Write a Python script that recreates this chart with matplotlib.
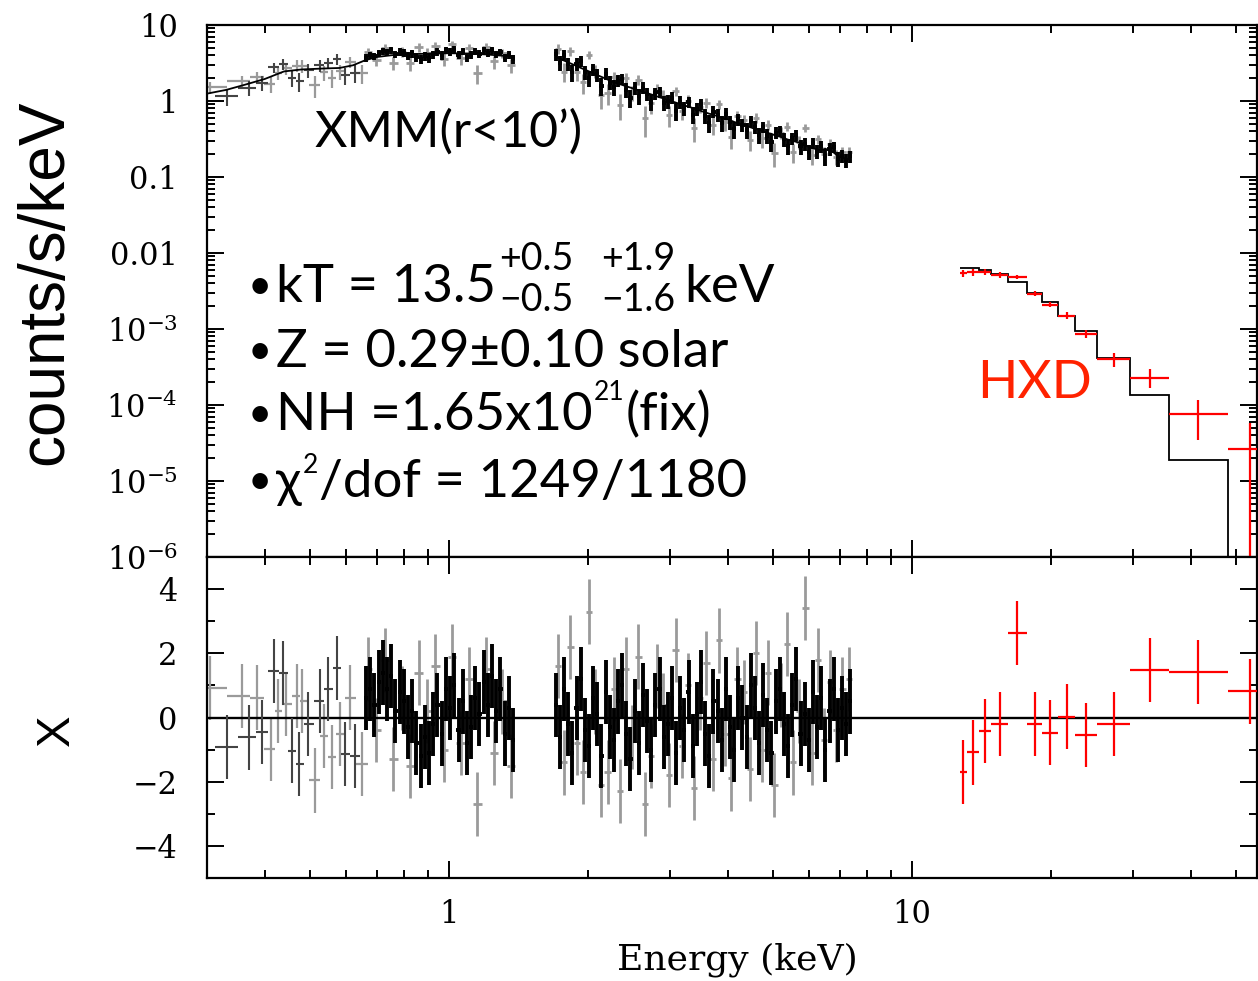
import numpy as np
import matplotlib
matplotlib.use("Agg")
import matplotlib.pyplot as plt
from matplotlib.ticker import FixedLocator, FixedFormatter, NullFormatter

plt.rcParams['font.family'] = ['DejaVu Serif']
plt.rcParams['mathtext.fontset'] = 'dejavuserif'

# ------------------------------------------------------------------ data
# XMM soft band model curve (counts/s/keV)
SOFT_MODEL_E = [0.30, 0.33, 0.36, 0.40, 0.44, 0.48, 0.53, 0.58, 0.62, 0.66,
                0.70, 0.75, 0.80, 0.90, 1.00, 1.10, 1.20, 1.30, 1.38]
SOFT_MODEL_V = [1.25, 1.40, 1.62, 1.95, 2.45, 2.60, 2.67, 2.72, 2.95, 3.45,
                3.80, 4.00, 4.10, 4.20, 4.25, 4.22, 4.10, 3.95, 3.85]

# XMM soft, low energy sparse bins (two instruments)
SOFT_LO_GRAY_E = [0.305, 0.357, 0.385, 0.413, 0.427, 0.445, 0.470, 0.481, 0.514, 0.537, 0.559, 0.582, 0.611, 0.649]
SOFT_LO_GRAY_M = [1.27, 1.60, 1.82, 2.08, 2.25, 2.50, 2.58, 2.62, 2.66, 2.69, 2.71, 2.74, 2.90, 3.30]
SOFT_LO_GRAY_R = [0.93, 0.67, 0.62, -0.98, 0.20, 0.41, 0.67, 0.52, -1.96, -0.57, -1.24, -0.52, 0.62, -1.44]

SOFT_LO_BLACK_E = [0.331, 0.370, 0.395, 0.419, 0.438, 0.458, 0.474, 0.496, 0.526, 0.548, 0.573, 0.596, 0.627]
SOFT_LO_BLACK_M = [1.42, 1.70, 1.90, 2.15, 2.40, 2.55, 2.60, 2.64, 2.68, 2.70, 2.72, 2.80, 3.05]
SOFT_LO_BLACK_R = [-0.93, -0.62, -0.46, 1.44, 1.39, -1.03, -1.46, -0.20, 0.52, 0.88, 1.55, -1.13, -1.19]

# XMM soft, dense bins
SOFT_HI_BLACK_E = [0.662, 0.676, 0.690, 0.705, 0.720, 0.735, 0.750, 0.766, 0.782,
                   0.799, 0.816, 0.833, 0.850, 0.868, 0.887, 0.905, 0.924, 0.944,
                   0.964, 0.984, 1.005, 1.026, 1.048, 1.070, 1.092, 1.115, 1.139,
                   1.163, 1.187, 1.212, 1.238, 1.264, 1.291, 1.318, 1.346, 1.374]
SOFT_HI_BLACK_M = [3.47, 3.60, 3.70, 3.80, 3.88, 3.95, 4.00, 4.03, 4.06,
                   4.09, 4.11, 4.13, 4.15, 4.17, 4.19, 4.20, 4.21, 4.22,
                   4.23, 4.24, 4.25, 4.25, 4.24, 4.23, 4.21, 4.19, 4.17,
                   4.14, 4.11, 4.08, 4.05, 4.01, 3.97, 3.93, 3.89, 3.85]
SOFT_HI_BLACK_R = [0.6, 0.9, 0.4, 1.1, 1.4, 0.9, 1.3, 0.2, 0.8,
                   0.5, -0.3, 0.2, -0.8, -1.2, -0.6, -1.1, -0.2, 0.4,
                   -0.5, 0.9, 0.3, 1.0, -0.4, 0.5, -0.8, -0.3, 0.6,
                   0.1, 1.1, 0.4, 1.3, 0.2, 0.9, -0.5, 0.3, -0.7]

SOFT_HI_GRAY_E = [0.669, 0.697, 0.727, 0.758, 0.790, 0.824, 0.859, 0.896, 0.934,
                  0.974, 1.015, 1.059, 1.104, 1.151, 1.200, 1.251, 1.304, 1.360]
SOFT_HI_GRAY_M = [3.53, 3.75, 3.92, 4.02, 4.07, 4.12, 4.16, 4.19, 4.21,
                  4.23, 4.25, 4.24, 4.20, 4.15, 4.10, 4.03, 3.95, 3.87]
SOFT_HI_GRAY_R = [1.5, -0.4, 1.8, -1.3, 0.6, -1.5, 1.4, 0.2, 1.6,
                  -1.0, 1.9, -0.8, 1.2, -2.7, 1.5, -1.1, 0.5, -1.5]

# XMM hard band
HARD_BLACK_E = [1.700, 1.735, 1.772, 1.809, 1.846, 1.885, 1.924, 1.964,
                2.005, 2.047, 2.090, 2.133, 2.178, 2.223, 2.270, 2.317,
                2.365, 2.415, 2.465, 2.516, 2.569, 2.622, 2.677, 2.733,
                2.790, 2.848, 2.907, 2.968, 3.030, 3.093, 3.157, 3.223,
                3.290, 3.359, 3.429, 3.500, 3.573, 3.648, 3.724, 3.801,
                3.880, 3.961, 4.044, 4.128, 4.214, 4.302, 4.391, 4.483,
                4.576, 4.672, 4.769, 4.868, 4.970, 5.073, 5.179, 5.287,
                5.397, 5.510, 5.624, 5.742, 5.861, 5.983, 6.108, 6.235,
                6.365, 6.497, 6.633, 6.771, 6.912, 7.056, 7.203, 7.353]
HARD_BLACK_M = [3.80, 3.60, 3.40, 3.22, 3.05, 2.89, 2.73, 2.59,
                2.45, 2.32, 2.19, 2.08, 1.97, 1.86, 1.76, 1.69,
                1.63, 1.56, 1.50, 1.44, 1.38, 1.32, 1.27, 1.22,
                1.17, 1.12, 1.08, 1.03, 0.99, 0.95, 0.91, 0.875,
                0.84, 0.81, 0.77, 0.74, 0.71, 0.68, 0.66, 0.63,
                0.60, 0.58, 0.56, 0.53, 0.51, 0.49, 0.47, 0.45,
                0.43, 0.42, 0.40, 0.38, 0.37, 0.35, 0.34, 0.325,
                0.31, 0.30, 0.29, 0.28, 0.265, 0.25, 0.24, 0.23,
                0.225, 0.235, 0.225, 0.21, 0.19, 0.18, 0.175, 0.17]
HARD_BLACK_R = [0.4, -0.6, 0.9, -0.2, -1.1, 0.3, 1.2, -0.4,
                -0.9, 0.6, 0.1, -1.2, 0.8, -0.3, -0.7, 0.5,
                1.0, -0.5, -1.3, 0.2, -0.8, 0.7, -0.1, -1.0,
                0.4, 0.9, -0.6, -0.2, 0.6, -1.1, 0.3, -0.4,
                0.8, -0.9, 0.1, 1.1, -0.5, -1.2, 0.5, 0.2,
                -0.7, 0.9, -0.3, -1.0, 0.6, 0.0, -0.6, 1.0,
                0.3, -0.8, 0.7, -0.4, -1.1, 0.5, 0.9, -0.2,
                -0.9, 0.4, 1.2, -0.5, 0.1, -0.7, 0.8, -0.3,
                0.6, -1.0, 0.2, 0.9, -0.4, 0.3, -0.2, 0.5]

HARD_GRAY_E = [1.720, 1.774, 1.829, 1.886, 1.945, 2.006, 2.068, 2.133,
               2.199, 2.268, 2.339, 2.412, 2.487, 2.565, 2.645, 2.727,
               2.813, 2.900, 2.991, 3.084, 3.181, 3.280, 3.382, 3.488,
               3.597, 3.709, 3.825, 3.945, 4.068, 4.195, 4.326, 4.461,
               4.600, 4.744, 4.892, 5.045, 5.202, 5.365, 5.532, 5.705,
               5.883, 6.067, 6.256, 6.452, 6.653, 6.861, 7.075, 7.296]
HARD_GRAY_M = [3.68, 3.39, 3.13, 2.88, 2.66, 2.45, 2.26, 2.08,
               1.92, 1.77, 1.66, 1.56, 1.47, 1.38, 1.30, 1.22,
               1.15, 1.08, 1.02, 0.956, 0.898, 0.845, 0.795, 0.747,
               0.703, 0.661, 0.621, 0.584, 0.549, 0.517, 0.486, 0.457,
               0.430, 0.404, 0.380, 0.357, 0.336, 0.316, 0.297, 0.279,
               0.263, 0.247, 0.232, 0.235, 0.225, 0.200, 0.182, 0.171]
HARD_GRAY_R = [1.6, -1.4, 2.2, -0.8, -1.7, 3.3, 0.5, -2.1,
               -1.7, 0.9, -2.3, 1.5, -0.6, 1.9, -2.7, -1.2,
               1.3, 0.4, -1.8, 2.1, -0.9, 1.0, -2.2, 0.6,
               1.7, -1.3, 2.4, -0.5, -1.9, 1.2, 0.8, -1.6,
               2.0, -1.0, 1.4, -2.1, 0.7, 2.3, -1.4, 0.2,
               3.4, -1.1, 1.8, -0.7, 1.1, -0.4, 0.9, 1.2]

# relative 1-sigma errors of each XMM group
REL_ERR_SOFT_LO = 0.20
REL_ERR_SOFT_HI_BLACK = 0.12
REL_ERR_SOFT_HI_GRAY = 0.16
REL_ERR_HARD_BLACK = 0.20
REL_ERR_HARD_GRAY = 0.20

# Suzaku HXD
HXD_EDGES = [12.67, 13.15, 13.95, 14.81, 16.12, 17.72, 19.09, 20.67, 22.49, 25.09, 29.57, 35.84, 48.13, 65.5]
HXD_E = [12.9, 13.55, 14.4, 15.45, 16.85, 18.4, 19.9, 21.6, 23.8, 27.3, 32.6, 41.5, 53.7]
HXD_RATE = [5.4e-3, 5.6e-3, 5.7e-3, 5.2e-3, 4.9e-3, 2.9e-3, 2.1e-3, 1.5e-3, 8.6e-4, 4.0e-4, 2.3e-4, 7.5e-5, 2.6e-5]
HXD_ERR = [5.9e-4, 5.5e-4, 5.0e-4, 4.5e-4, 3.0e-4, 2.2e-4, 1.8e-4, 1.5e-4, 1.1e-4, 8.0e-5, 6.4e-5, 4.0e-5, 3.2e-5]
HXD_MODEL = [6.4e-3, 6.3e-3, 6.0e-3, 5.3e-3, 4.1e-3, 3.0e-3, 2.25e-3, 1.5e-3, 9.3e-4, 4.2e-4, 1.35e-4, 1.9e-5, 4e-7]
HXD_CHI = [-1.69, -1.09, -0.42, -0.21, 2.63, -0.21, -0.47, 0.03, -0.55, -0.21, 1.48, 1.41, 0.81]

TOP_YTICKS = [1e-6, 1e-5, 1e-4, 1e-3, 1e-2, 1e-1, 1, 10]
TOP_YLABELS = [r'$10^{-6}$', r'$10^{-5}$', r'$10^{-4}$', r'$10^{-3}$', '0.01', '0.1', '1', '10']
RES_YTICKS = [-4, -2, 0, 2, 4]
RES_YLABELS = ['\u22124', '\u22122', '0', '2', '4']
X_TICKS = [1, 10]
X_LABELS = ['1', '10']

# ------------------------------------------------------------------ figure
W, H = 1258, 981
fig = plt.figure(figsize=(W / 100, H / 100), dpi=100)

L, R = 207, 1257
T1, B1, B2 = 25, 557, 878
ax1 = fig.add_axes([L / W, 1 - B1 / H, (R - L) / W, (B1 - T1) / H])
ax2 = fig.add_axes([L / W, 1 - B2 / H, (R - L) / W, (B2 - B1) / H], sharex=ax1)

ax1.set_xscale('log')
ax1.set_yscale('log')
ax1.set_xlim(0.3, 55.6)
ax1.set_ylim(1e-6, 10)
ax2.set_ylim(-5, 5)

GRAY = '#9a9a9a'
BLACK = '#000000'


def half_gaps(E):
    E = np.asarray(E, float)
    g = np.diff(E)
    left = np.r_[g[0], g] / 2
    right = np.r_[g, g[-1]] / 2
    return np.vstack([left, right])


def draw_group(E, M, Rr, rel, color, lw=1.1, z=2):
    E = np.asarray(E, float)
    M = np.asarray(M, float)
    Rr = np.asarray(Rr, float)
    err = M * rel
    data = M + Rr * err
    xe = half_gaps(E)
    ax1.errorbar(E, data, yerr=err, xerr=xe, fmt='none', ecolor=color,
                 elinewidth=lw, capsize=0, zorder=z)
    ax2.errorbar(E, Rr, yerr=np.ones_like(Rr), xerr=xe, fmt='none', ecolor=color,
                 elinewidth=lw, capsize=0, zorder=z)


# gray groups first, black on top
draw_group(SOFT_LO_GRAY_E, SOFT_LO_GRAY_M, SOFT_LO_GRAY_R, REL_ERR_SOFT_LO, GRAY, lw=1.6)
draw_group(SOFT_HI_GRAY_E, SOFT_HI_GRAY_M, SOFT_HI_GRAY_R, REL_ERR_SOFT_HI_GRAY, GRAY, lw=2.0)
draw_group(HARD_GRAY_E, HARD_GRAY_M, HARD_GRAY_R, REL_ERR_HARD_GRAY, GRAY, lw=2.0)
draw_group(SOFT_LO_BLACK_E, SOFT_LO_BLACK_M, SOFT_LO_BLACK_R, REL_ERR_SOFT_LO, '#444444', lw=1.5, z=3)
draw_group(SOFT_HI_BLACK_E, SOFT_HI_BLACK_M, SOFT_HI_BLACK_R, REL_ERR_SOFT_HI_BLACK, BLACK, lw=2.8, z=3)
draw_group(HARD_BLACK_E, HARD_BLACK_M, HARD_BLACK_R, REL_ERR_HARD_BLACK, BLACK, lw=2.8, z=3)

# model curves
ax1.plot(SOFT_MODEL_E, SOFT_MODEL_V, color='k', lw=1.3, zorder=4)
ax1.plot(HARD_BLACK_E, HARD_BLACK_M, color='k', lw=1.3, zorder=4)
ax1.stairs(HXD_MODEL, HXD_EDGES, baseline=None, color='k', lw=1.3, zorder=4)

# HXD data
hxd_e = np.asarray(HXD_E)
hxd_edges = np.asarray(HXD_EDGES)
hxd_xerr = np.vstack([hxd_e - hxd_edges[:-1], hxd_edges[1:] - hxd_e])
hxd_rate = np.asarray(HXD_RATE)
hxd_err = np.asarray(HXD_ERR)
hxd_lo = np.where(hxd_rate - hxd_err <= 0, hxd_rate - 1e-9, hxd_err)
ax1.errorbar(hxd_e, hxd_rate, yerr=[hxd_lo, hxd_err], xerr=hxd_xerr, fmt='none',
             ecolor='#ff0000', elinewidth=1.6, capsize=0, zorder=5)
ax2.errorbar(hxd_e, HXD_CHI, yerr=np.ones(len(HXD_CHI)), xerr=hxd_xerr, fmt='none',
             ecolor='#ff0000', elinewidth=1.6, capsize=0, zorder=5)

ax2.axhline(0, color='k', lw=1.7, zorder=2.5)

# ticks / spines
X_MINOR = [0.4, 0.5, 0.6, 0.7, 0.8, 0.9, 2, 3, 4, 5, 6, 7, 8, 9, 20, 30, 40, 50]
Y_MINOR = [m * 10.0 ** k for k in range(-6, 1) for m in range(2, 10)]
for ax in (ax1, ax2):
    ax.tick_params(which='both', direction='in', top=True, right=True,
                   bottom=True, left=True, width=1.4, labelsize=22)
    ax.tick_params(which='major', length=12)
    ax.tick_params(which='minor', length=6)
    ax.tick_params(axis='y', pad=21)
    ax.tick_params(axis='x', pad=15)
    for s in ax.spines.values():
        s.set_linewidth(1.6)
    ax.xaxis.set_major_locator(FixedLocator(X_TICKS))
    ax.xaxis.set_minor_locator(FixedLocator(X_MINOR))
    ax.xaxis.set_minor_formatter(NullFormatter())

ax2.xaxis.set_major_formatter(FixedFormatter(X_LABELS))
ax1.tick_params(labelbottom=False)

ax1.yaxis.set_major_locator(FixedLocator(TOP_YTICKS))
ax1.yaxis.set_major_formatter(FixedFormatter(TOP_YLABELS))
ax1.yaxis.set_minor_locator(FixedLocator(Y_MINOR))
ax1.yaxis.set_minor_formatter(NullFormatter())

ax2.yaxis.set_major_locator(FixedLocator(RES_YTICKS))
ax2.yaxis.set_major_formatter(FixedFormatter(RES_YLABELS))
ax2.yaxis.set_minor_locator(FixedLocator([-5, -3, -1, 1, 3, 5]))
ax2.yaxis.set_minor_formatter(NullFormatter())

# axis labels
fig.text(737 / W, 1 - 960 / H, 'Energy (keV)', ha='center', va='center',
         fontsize=26, family='DejaVu Serif')
fig.text(45 / W, 1 - 282 / H, 'counts/s/keV', rotation=90, ha='center', va='center',
         fontsize=46, family=['Liberation Sans', 'DejaVu Sans'])
fig.text(57 / W, 1 - 730 / H, 'X', rotation=90, ha='center', va='center',
         fontsize=34, family=['Liberation Sans', 'DejaVu Sans'])

# annotations
rend = fig.canvas.get_renderer()
ANN = ['Lato', 'Open Sans', 'DejaVu Sans']


def put(x, y, s, size, color='black'):
    t = fig.text(x / W, 1 - y / H, s, fontsize=size, family=ANN, color=color,
                 ha='left', va='baseline')
    bb = t.get_window_extent(renderer=rend)
    return bb.x1


MAIN = 38
SCR = 27
SUP = 19
BUL = 30


def bullet(y):
    put(248, y - 3, '\u2022', BUL)


put(315, 147, 'XMM(r<10\u2019)', 36)
put(977, 398, 'HXD', 38, color='#ff2200')

# kT line
bullet(302)
xe = put(276, 302, 'kT = 13.5', MAIN)
a = put(xe + 3, 270, '+0.5', SCR)
b = put(xe + 3, 311, '\u22120.5', SCR)
x2 = max(a, b) + 28
a = put(x2, 270, '+1.9', SCR)
b = put(x2, 311, '\u22121.6', SCR)
put(max(a, b) + 9, 302, 'keV', MAIN)

# Z line
bullet(367)
put(276, 367, 'Z = 0.29\u00b10.10 solar', MAIN)

# NH line
bullet(430)
xe = put(276, 430, 'NH =1.65x10', MAIN)
xe = put(xe + 1, 400, '21', SUP)
put(xe + 1, 430, '(fix)', MAIN)

# chi2 line
bullet(497)
xe = put(276, 497, '\u03c7', MAIN)
xe = put(xe + 1, 473, '2', SUP)
put(xe + 1, 497, '/dof = 1249/1180', MAIN)

fig.savefig('out.png', dpi=100)
